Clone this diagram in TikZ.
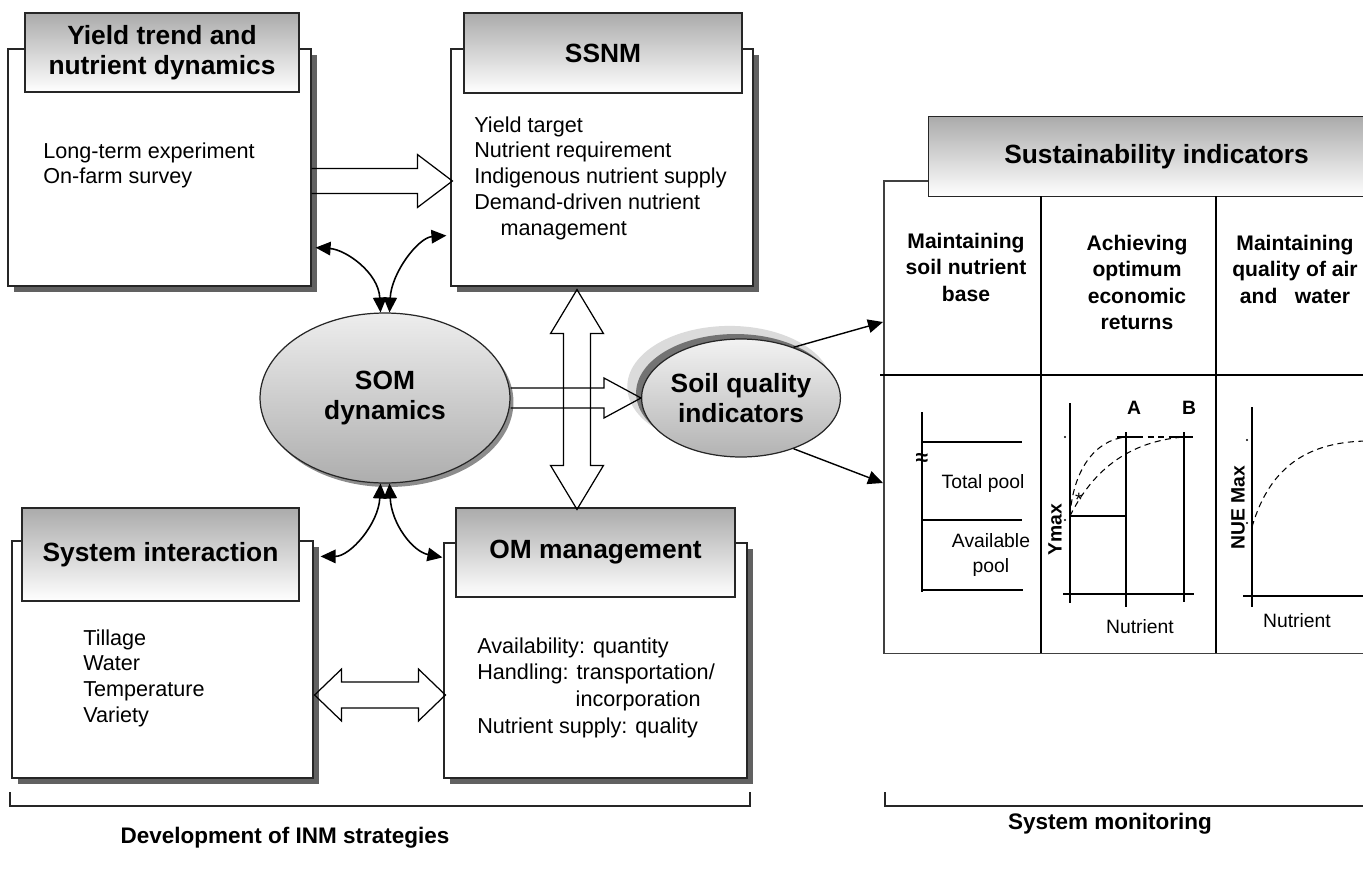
\documentclass[tikz,border=0pt]{standalone}
\usepackage{fontspec}
\setmainfont{Liberation Sans}
\usetikzlibrary{
  arrows.meta,
  positioning,
  shapes.geometric,
  calc,
  shadows
}

\tikzset{
  panel/.style={draw=black!85, line width=0.7pt, fill=white, inner sep=0pt,
    minimum width=6.04cm, minimum height=4.74cm,
    drop shadow={shadow xshift=0.12cm, shadow yshift=-0.12cm, fill=black!62, opacity=1}},
  panelhead/.style={draw=black!85, line width=0.7pt, top color=black!33, bottom color=white,
    align=center, inner sep=0pt, minimum height=1.6cm,
    font=\fontsize{15}{17}\selectfont\bfseries},
  items/.style={anchor=north west, inner sep=0pt, align=left,
    font=\fontsize{12.3}{14.7}\selectfont},
  bubble/.style={ellipse, draw=black!85, line width=0.7pt, top color=black!7, bottom color=black!32,
    align=center, inner sep=0pt, font=\fontsize{15}{17}\selectfont\bfseries},
  blockline/.style={draw=black, line width=0.7pt, line join=miter},
  link/.style={line width=0.9pt,
    {Triangle[length=0.3cm,width=0.27cm]}-{Triangle[length=0.3cm,width=0.27cm]}},
  feed/.style={line width=0.8pt, -{Triangle[length=0.3cm,width=0.27cm]}},
  colhead/.style={anchor=north, align=center, inner sep=0pt,
    font=\fontsize{12}{15}\selectfont\bfseries},
  gridline/.style={line width=1.1pt},
  plotaxis/.style={line width=1pt},
  plotcurve/.style={line width=0.6pt, dash pattern=on 3.5pt off 2.5pt},
  plotlabel/.style={inner sep=0pt, font=\fontsize{11}{14.2}\selectfont},
  bracket/.style={line width=0.9pt, draw=black!85},
  caption/.style={inner sep=0pt, font=\fontsize{12.8}{15}\selectfont\bfseries}
}

% open block arrow: start, tip, half shaft, half head, head length
\newcommand{\fatarrow}[5]{%
  \coordinate (fah) at ($(#2)!#5!(#1)$);
  \draw[blockline] ($(#1)!#3!90:(#2)$) -- ($(fah)!#3!90:(#2)$) -- ($(fah)!#4!90:(#2)$)
    -- (#2) -- ($(fah)!#4!-90:(#2)$) -- ($(fah)!#3!-90:(#2)$) -- ($(#1)!#3!-90:(#2)$);}

% open block arrow with a head at both ends
\newcommand{\fatdouble}[5]{%
  \coordinate (fda) at ($(#1)!#5!(#2)$);
  \coordinate (fdb) at ($(#2)!#5!(#1)$);
  \draw[blockline] (#1) -- ($(fda)!#4!90:(#2)$) -- ($(fda)!#3!90:(#2)$)
    -- ($(fdb)!#3!90:(#2)$) -- ($(fdb)!#4!90:(#2)$) -- (#2)
    -- ($(fdb)!#4!-90:(#2)$) -- ($(fdb)!#3!-90:(#2)$)
    -- ($(fda)!#3!-90:(#2)$) -- ($(fda)!#4!-90:(#2)$) -- cycle;}

\begin{document}
\begin{tikzpicture}[x=0.02cm, y=-0.02cm]
  \path[use as bounding box, clip] (0,0) rectangle (1363,896);

  %% ===== INM strategies (left half) =====
  \node[panel, minimum width=6.06cm] (yieldbox) at (159.5,167.5) {};
  \node[panelhead, minimum width=5.48cm, minimum height=1.58cm] (yieldhead) at (162,52.5)
    {Yield trend and\\nutrient dynamics};
  \node[items] at (43,142) {Long-term experiment\\On-farm survey};

  \node[panel] (ssnmbox) at (602,167.5) {};
  \node[panelhead, minimum width=5.56cm] (ssnmhead) at (603,53) {SSNM};
  \node[items] at (474,116) {Yield target\\Nutrient requirement\\Indigenous nutrient supply\\
    Demand-driven nutrient\\\hspace*{15pt}management};

  \node[panel, minimum width=6.02cm] (sysbox) at (162.5,659.5) {};
  \node[panelhead, minimum width=5.54cm, minimum height=1.86cm] (syshead) at (160.5,554.5)
    {System interaction};
  \node[items] at (83,629) {Tillage\\Water\\Temperature\\Variety};

  \node[panel, minimum width=6.06cm, minimum height=4.7cm] (ombox) at (595.5,660.5) {};
  \node[panelhead, minimum width=5.58cm, minimum height=1.78cm] (omhead) at (595.5,552.5)
    {OM management};
  \node[items, font=\fontsize{12.3}{15.3}\selectfont] at (477,637)
    {Availability: quantity\\Handling: transportation/\\\hspace*{56pt}incorporation\\
     Nutrient supply: quality};

  % central ellipses
  \node[bubble, minimum width=5cm, minimum height=3.4cm,
    drop shadow={shadow xshift=0.07cm, shadow yshift=-0.08cm, fill=black!45, opacity=1}]
    (som) at (385,398) {SOM\\dynamics};
  \node[bubble, top color=black!5, bottom color=black!30, minimum width=3.44cm, minimum height=2.36cm,
    drop shadow={shadow xshift=-0.22cm, shadow yshift=0.22cm, shadow scale=1.03, fill=black!14, opacity=1},
    drop shadow={shadow xshift=-0.11cm, shadow yshift=0.1cm, fill=black!55, opacity=1}]
    (soilq) at (741,398) {Soil quality\\indicators};

  % block arrows
  \coordinate (ya) at ($(yieldbox.east)+(0,13.5)$);
  \coordinate (sa) at ($(ssnmbox.west)+(2,13.5)$);
  \fatarrow{ya}{sa}{0.25cm}{0.53cm}{0.7cm}

  \coordinate (sv) at ($(ssnmbox.south)+(-25,3)$);
  \coordinate (ov) at ($(omhead.north)+(-18.5,2)$);
  \fatdouble{sv}{ov}{0.27cm}{0.53cm}{0.88cm}

  \fatarrow{som.east}{soilq.west}{0.2cm}{0.4cm}{0.74cm}

  \coordinate (sl) at ($(sysbox.east)+(1,35.5)$);
  \coordinate (ol) at ($(ombox.west)+(2,34.5)$);
  \fatdouble{sl}{ol}{0.26cm}{0.52cm}{0.54cm}

  % curved two-way links round the SOM ellipse
  \coordinate (ytip) at ($(yieldbox.south east)+(4,-39)$);
  \coordinate (stip) at ($(ssnmbox.south west)+(-4,-51)$);
  \coordinate (sitip) at ($(sysbox.north east)+(7,16)$);
  \coordinate (omtip) at ($(ombox.north west)+(-1,15)$);
  \draw[link] (som.93) .. controls +(-2,-40) and +(30,2) .. (ytip);
  \draw[link] (som.87) .. controls +(2,-40) and +(-28,2) .. (stip);
  \draw[link] (som.-93) .. controls +(-2,40) and +(30,0) .. (sitip);
  \draw[link] (som.-87) .. controls +(2,40) and +(-30,-6) .. (omtip);

  %% ===== Sustainability table (right half) =====
  \node[draw=black!75, line width=0.9pt, inner sep=0pt, anchor=north west,
    minimum width=12cm, minimum height=9.46cm] (sustain) at (883,180) {};
  \node[panelhead, anchor=north west, minimum width=9.12cm, minimum height=1.6cm]
    (sustainhead) at (928,116) {Sustainability indicators};

  \draw[gridline] (1041,196) -- (1041,653);
  \draw[gridline] (1216,196) -- (1216,653);
  \draw[gridline] (880,375) -- (1370,375);

  \node[colhead] at (966,233) {Maintaining\\soil nutrient\\base};
  \node[colhead] at (1137,235) {Achieving\\optimum\\economic\\returns};
  \node[colhead] at (1295,235) {Maintaining\\quality of air\\and\ \ \ water};

  % arrows into the table
  \coordinate (upin) at (883,322);
  \coordinate (lowin) at (883,483);
  \draw[feed] (soilq.44) -- (upin);
  \draw[feed] (soilq.-44) -- (lowin);

  % nutrient pools
  \draw[plotaxis] (922,412) -- (922,592);
  \draw[plotaxis] (922,442) -- (1022,442);
  \draw[plotaxis] (922,520) -- (1022,520);
  \draw[plotaxis] (922,590) -- (1023,590);
  \node[plotlabel, font=\fontsize{13}{14}\selectfont\bfseries] at (922,459) {≈};
  \node[plotlabel, anchor=base] at (983,488) {Total pool};
  \node[plotlabel, anchor=north, align=center] at (991,533) {Available\\pool};

  % yield response
  \draw[plotaxis] (1070,403) -- (1070,603);
  \draw[plotaxis] (1063,594) -- (1194,594);
  \draw[plotaxis] (1126,432) -- (1126,607);
  \draw[plotaxis] (1184,432) -- (1184,602);
  \draw[plotaxis] (1070,516) -- (1126,516);
  \draw[plotaxis] (1117,437) -- (1137,437);
  \draw[plotaxis] (1173,437) -- (1193,437);
  \draw[plotcurve, line width=1pt] (1137,437) -- (1173,437);
  \fill (1065,437) circle[radius=0.7pt];
  \fill (1065,520) circle[radius=0.7pt];
  \draw[plotcurve] (1070,516) .. controls (1073,470) and (1095,440) .. (1126,437);
  \draw[plotcurve] (1070,516) .. controls (1088,480) and (1120,442) .. (1184,437);
  \node[plotlabel] at (1079,500) {*};
  \node[plotlabel, font=\fontsize{11}{13}\selectfont\bfseries, anchor=base] at (1134,414) {A};
  \node[plotlabel, font=\fontsize{11}{13}\selectfont\bfseries, anchor=base] at (1189,414) {B};
  \node[plotlabel, font=\fontsize{11}{13}\selectfont\bfseries, rotate=90] at (1055,530) {Ymax};
  \node[plotlabel, anchor=base] at (1140,633) {Nutrient};

  % nutrient use efficiency
  \draw[plotaxis] (1252,407) -- (1252,607);
  \draw[plotaxis] (1243,596) -- (1370,596);
  \fill (1247,440) circle[radius=0.7pt];
  \fill (1247,523) circle[radius=0.7pt];
  \draw[plotcurve] (1252,527) .. controls (1270,465) and (1310,441) .. (1370,441);
  \node[plotlabel, font=\fontsize{11}{13}\selectfont\bfseries, rotate=90] at (1238,508) {NUE Max};
  \node[plotlabel, anchor=base] at (1297,627) {Nutrient};

  %% ===== Brackets and captions =====
  \draw[bracket] (10,792) -- (10,806) -- (750,806) -- (750,792);
  \draw[bracket] (885,792) -- (885,806) -- (1370,806);
  \node[caption] at (285,838) {Development of INM strategies};
  \node[caption] at (1110,824) {System monitoring};

\end{tikzpicture}
\end{document}
